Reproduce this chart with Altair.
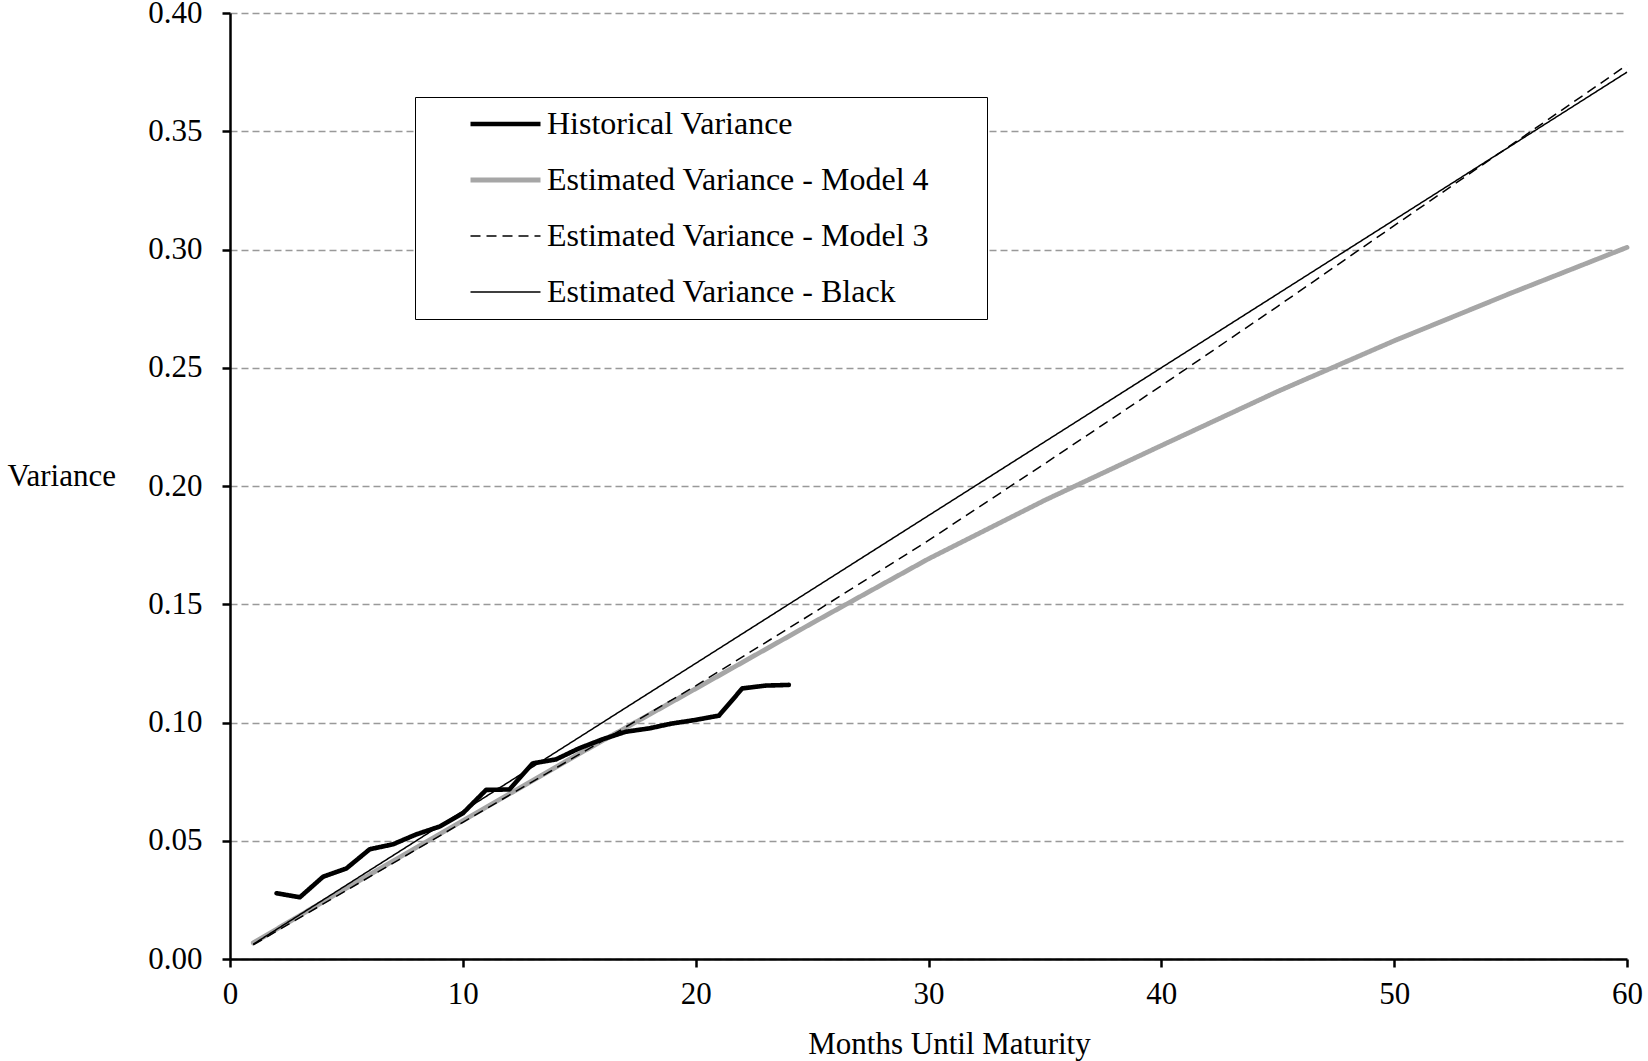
import altair as alt
import pandas as pd

# ---- data ----
hist_months = list(range(2, 25))
hist_values = [0.0278, 0.0261, 0.0348, 0.0383, 0.0464, 0.0485, 0.0527, 0.0560,
               0.0616, 0.0715, 0.0717, 0.0827, 0.0844, 0.0891, 0.0929, 0.0961,
               0.0975, 0.0996, 0.1011, 0.1029, 0.1144, 0.1156, 0.1159]

model_months = [1, 5, 10, 15, 20, 25, 30, 35, 40, 45, 50, 55, 60]
model4_values = [0.0068, 0.0300, 0.0585, 0.0868, 0.1143, 0.1420, 0.1692,
                 0.1940, 0.2171, 0.2400, 0.2614, 0.2815, 0.3009]
model3_values = [0.0060, 0.0290, 0.0578, 0.0865, 0.1155, 0.1460, 0.1770,
                 0.2095, 0.2424, 0.2760, 0.3101, 0.3440, 0.3780]

black_months = [1, 60]
black_values = [0.00625, 0.375]

series_names = ["Historical Variance", "Estimated Variance - Model 4",
                "Estimated Variance - Model 3", "Estimated Variance - Black"]
series_colors = ["#000000", "#a6a6a6", "#000000", "#000000"]
series_widths = [4.6, 4.8, 1.5, 1.5]
series_dashes = [[1, 0], [1, 0], [10, 6], [1, 0]]

x_ticks = [0, 10, 20, 30, 40, 50, 60]
y_ticks = [0.0, 0.05, 0.10, 0.15, 0.20, 0.25, 0.30, 0.35, 0.40]

rows = []
for m, v in zip(hist_months, hist_values):
    rows.append({"month": m, "variance": v, "series": series_names[0]})
for m, v in zip(model_months, model4_values):
    rows.append({"month": m, "variance": v, "series": series_names[1]})
for m, v in zip(model_months, model3_values):
    rows.append({"month": m, "variance": v, "series": series_names[2]})
for m, v in zip(black_months, black_values):
    rows.append({"month": m, "variance": v, "series": series_names[3]})
df = pd.DataFrame(rows)

FONT = "Liberation Serif"
NB = "\u00a0"
BLANK = "\u2800"

legend = alt.Legend(
    title=NB, titleOrient="left", titlePadding=42, titleFont=FONT, titleFontSize=32,
    orient="none", legendX=185, legendY=84, padding=11, rowPadding=24,
    clipHeight=32,
    strokeColor="black", fillColor="white", symbolType="stroke", symbolSize=4900,
    labelFont=FONT, labelFontSize=32, labelColor="black", labelOffset=4,
    labelLimit=1000, labelExpr="datum.label + '" + BLANK * 2 + "'",
)

x_enc = alt.X("month:Q", scale=alt.Scale(domain=[0, 60], nice=False),
              axis=alt.Axis(values=x_ticks, title="Months Until Maturity", grid=False,
                            labelPadding=12, labelFlush=False, labelOverlap=False,
                            titleX=719, titleY=85, titleBaseline="middle",
                            titleAlign="center"))
y_enc = alt.Y("variance:Q", scale=alt.Scale(domain=[0, 0.4], nice=False),
              axis=alt.Axis(values=y_ticks, format=".2f", title="Variance",
                            grid=True, gridColor="#999999", gridDash=[7, 4],
                            gridWidth=1.5, labelPadding=20, labelFlush=False,
                            labelOverlap=False, titleAngle=0, titleAlign="left",
                            titleBaseline="middle", titleX=-223, titleY=463))
color_enc = alt.Color("series:N", scale=alt.Scale(domain=series_names, range=series_colors),
                      legend=legend)
width_enc = alt.StrokeWidth("series:N",
                            scale=alt.Scale(type="ordinal", domain=series_names,
                                            range=series_widths),
                            legend=legend)
dash_enc = alt.StrokeDash("series:N", scale=alt.Scale(domain=series_names, range=series_dashes),
                          legend=legend)

base = alt.Chart(df).encode(x=x_enc, y=y_enc, color=color_enc,
                            strokeWidth=width_enc, strokeDash=dash_enc)

def layer(name, cap):
    return base.transform_filter(alt.datum.series == name).mark_line(
        strokeCap=cap, strokeJoin="round")

chart = alt.layer(
    layer(series_names[1], "round"),
    layer(series_names[2], "butt"),
    layer(series_names[3], "butt"),
    layer(series_names[0], "round"),
).properties(
    width=1397, height=946,
    autosize=alt.AutoSizeParams(type="none"),
    padding={"left": 230, "top": 13, "right": 21, "bottom": 102},
    background="white",
).configure_view(strokeWidth=0).configure_axis(
    domainColor="black", domainWidth=2.5, tickColor="black", tickWidth=2.5,
    tickSize=8, labelFont=FONT, labelFontSize=31, labelColor="black",
    titleFont=FONT, titleFontSize=31, titleFontWeight="normal", titleColor="black",
)

chart.save("out.html", embed_options={"renderer": "svg", "actions": False})
